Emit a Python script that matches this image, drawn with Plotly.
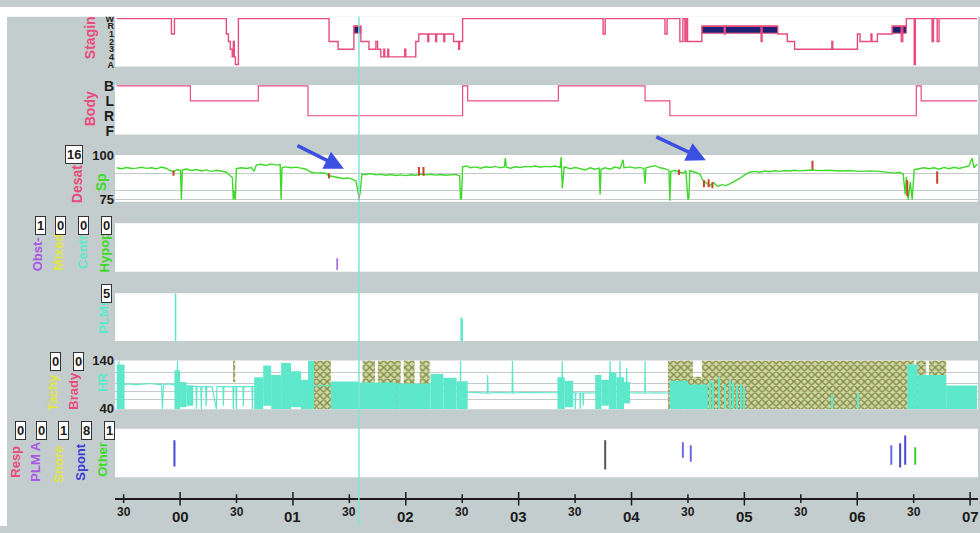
import plotly.graph_objects as go
from plotly.subplots import make_subplots

# ---------------- figure geometry ----------------
FIG_W, FIG_H = 980, 533
M_L, M_R = 115, 2
PLOT_W = FIG_W - M_L - M_R

# ---------------- data ----------------
# time in minutes after 23:00
X_RANGE = [25.4, 484.2]
TICK_MIN = [30, 60, 90, 120, 150, 180, 210, 240, 270, 300, 330, 360, 390, 420, 450, 480]
TICK_LBL = ["30", "00", "30", "01", "30", "02", "30", "03", "30", "04", "30", "05", "30", "06", "30", "07"]
CURSOR_MIN = 155.1

# sleep staging (0=A ... 6=W)
STAGE_NAMES = ["A", "4", "3", "2", "1", "R", "W"]
STAGE_T = [26.3, 55.4, 57.0, 84.6, 85.7, 86.7, 87.7, 88.3, 88.8, 89.4, 91.0, 139.2, 144.0, 152.4, 156.1,
           160.4, 164.1, 165.0, 166.7, 168.3, 168.8, 170.4, 170.9, 179.4, 180.0, 185.3, 186.9, 191.7, 192.2,
           195.9, 196.4, 200.2, 200.7, 205.4, 208.1, 208.6, 210.2, 284.9, 286.0, 317.8, 318.9, 325.7, 327.3,
           328.4, 329.0, 329.8, 337.4, 349.3, 349.8, 368.9, 369.4, 377.7, 382.8, 386.7, 406.5, 407.0, 420.1,
           421.5, 427.3, 427.8, 430.7, 438.6, 443.4, 444.2, 446.1, 450.3, 450.9, 459.8, 460.5, 462.5, 463.5, 483.7]
STAGE_V = [6, 4, 6, 4, 3, 2, 1, 3, 1, 0, 6, 3, 2, 5, 3,
           2, 3, 2, 1, 2, 1, 2, 1, 2, 1, 3, 4, 3, 4,
           3, 4, 3, 4, 3, 2, 3, 6, 4, 6, 4, 6, 3, 6,
           3, 6, 3, 5, 4, 5, 3, 5, 4, 3, 2, 3, 2, 4,
           3, 4, 3, 4, 5, 3, 5, 6, 0, 6, 3, 6, 3, 6, 6]
REM_T0 = [152.4, 337.4, 438.6]
REM_T1 = [156.1, 377.7, 446.1]

# body position (0=F, 1=R, 2=L, 3=B)
BODY_NAMES = ["F", "R", "L", "B"]
BODY_T = [26.3, 65.5, 101.6, 128.0, 210.2, 212.9, 261.1, 307.2, 320.4, 451.4, 454.0, 483.7]
BODY_V = [3, 2, 3, 1, 3, 2, 3, 2, 1, 3, 2, 2]

# SpO2 (%)
SPO2_T = [26.3, 28.9, 31.6, 34.2, 36.9, 39.5, 42.2, 44.8, 47.5, 50.1, 52.8, 54.4, 56.5, 58.6, 60.2, 60.7, 61.2,
          63.4, 66.0, 68.7, 71.3, 73.9, 76.6, 79.3, 81.9, 84.6, 86.2, 87.8, 88.3, 88.8, 89.4, 89.9, 92.5, 95.2,
          97.8, 99.4, 100.5, 103.1, 105.8, 108.4, 111.1, 113.2, 113.7, 114.2, 116.4, 119.0, 121.7, 124.3, 127.0,
          129.6, 132.3, 134.9, 137.6, 139.2, 141.3, 144.0, 146.6, 149.3, 151.9, 153.5, 154.5, 155.1, 155.6, 156.7,
          158.8, 161.4, 164.1, 166.7, 169.4, 172.0, 174.7, 177.3, 180.0, 182.6, 185.3, 187.9, 190.6, 193.2, 195.9,
          198.5, 201.2, 203.8, 206.5, 208.6, 209.1, 209.6, 210.2, 212.3, 214.4, 217.1, 219.7, 222.4, 225.0, 227.7,
          230.3, 232.4, 232.9, 233.5, 235.6, 238.3, 240.9, 243.6, 246.2, 248.9, 251.5, 254.2, 256.8, 259.4, 262.1,
          262.6, 263.2, 264.2, 267.4, 270.1, 272.7, 275.4, 278.0, 280.7, 282.8, 283.3, 283.8, 285.9, 288.6, 291.2,
          293.9, 295.5, 296.0, 299.2, 301.8, 304.5, 306.6, 307.2, 307.7, 309.8, 312.5, 315.1, 317.8, 319.9, 320.4,
          320.9, 323.1, 325.7, 327.8, 328.9, 330.0, 330.5, 331.0, 333.7, 336.3, 337.9, 339.5, 341.6, 343.8, 345.9,
          348.0, 350.1, 352.2, 354.9, 357.5, 360.2, 362.8, 365.4, 368.1, 370.8, 373.4, 376.1, 378.7, 381.4, 384.0,
          386.7, 389.3, 392.0, 395.7, 399.9, 405.2, 410.5, 415.8, 421.1, 426.4, 431.7, 437.0, 439.7, 442.3, 444.4,
          445.5, 446.1, 447.1, 448.2, 449.2, 450.3, 452.9, 455.6, 458.2, 460.9, 463.5, 466.2, 468.8, 471.5, 474.1,
          476.8, 479.4, 481.0, 482.1, 483.7]
SPO2_V = [93.0, 92.5, 93.2, 92.6, 92.8, 93.3, 92.7, 93.0, 92.4, 93.4, 92.6, 91.5, 90.8, 92.0, 91.5, 75.0, 91.8,
          92.3, 91.5, 92.0, 91.2, 91.8, 91.0, 91.6, 91.2, 90.5, 89.0, 87.5, 75.0, 80.0, 75.0, 92.5, 93.0, 92.6,
          93.2, 91.0, 94.5, 95.0, 94.3, 95.2, 94.5, 94.8, 75.0, 93.0, 93.5, 93.0, 93.4, 92.8, 92.2,
          90.5, 90.0, 90.3, 89.8, 88.5, 88.0, 87.5, 87.0, 87.3, 86.5, 85.5, 79.0, 76.5, 78.0, 89.5,
          89.2, 89.8, 89.0, 89.3, 88.8, 89.2, 88.7, 89.0, 88.6, 89.1, 88.8, 89.5, 89.0, 89.4, 88.9,
          89.2, 88.8, 89.0, 89.3, 88.5, 75.0, 76.0, 93.5, 94.0, 93.0, 93.5, 92.8, 93.6, 93.2, 93.8,
          93.0, 93.5, 98.5, 93.4, 92.8, 93.6, 93.2, 93.8, 93.5, 94.0, 93.3, 93.8, 93.5, 94.0, 93.2,
          99.0, 81.5, 93.5, 92.5, 93.2, 92.4, 91.8, 93.0, 92.2, 92.8, 78.0, 92.0, 93.0, 92.2, 93.4,
          92.6, 97.5, 93.0, 93.5, 92.8, 93.2, 92.5, 84.0, 93.0, 93.5, 94.2, 93.0, 92.5, 91.5, 74.5,
          91.0, 91.5, 90.5, 90.0, 91.5, 75.0, 76.0, 91.5, 90.5, 89.5, 86.0, 84.5, 83.0, 84.5, 82.5,
          83.5, 83.0, 84.0, 85.5, 87.0, 89.0, 90.5, 91.0, 90.5, 91.2, 90.8, 91.3, 91.0, 91.5, 91.2,
          91.6, 91.3, 91.5, 91.8, 91.4, 91.6, 91.2, 91.5, 91.0, 91.3, 91.0, 90.6, 90.0, 90.5, 89.5,
          78.0, 88.0, 75.0, 85.0, 75.0, 92.0, 92.5, 93.0, 92.5, 93.0, 92.2, 93.2, 92.5, 93.3, 92.6,
          93.5, 94.0, 98.5, 93.0, 95.0]

# desaturation marks
DESAT_T = [56.5, 139.2, 155.1, 187.0, 189.4, 325.2, 338.5, 341.0, 343.0, 396.2, 446.6, 462.5]
DESAT_LO = [88.5, 87.0, 75.0, 88.5, 88.5, 89.0, 82.0, 82.0, 81.5, 92.0, 77.0, 84.0]
DESAT_HI = [91.5, 90.0, 78.5, 93.5, 93.5, 92.0, 86.0, 86.5, 85.0, 97.0, 86.0, 91.0]

# respiratory events (obstructive apnea)
OBST_T = [143.5]
OBST_LO = [0.2]
OBST_HI = [1.4]

# PLMs
PLM_T = [57.6, 209.4, 210.0]
PLM_H = [5.0, 2.5, 2.3]

# heart rate trace (bpm)
HR_T = [26.3, 27.3, 27.5, 27.7, 30.5, 33.0, 36.0, 40.0, 44.0, 48.0, 50.1, 50.6, 51.2, 53.0, 56.0, 57.0, 58.4,
        58.6, 58.8, 67.0, 68.5, 68.7, 69.0, 71.0, 71.3, 71.6, 73.6, 73.9, 74.2, 77.0, 79.3, 79.6, 81.0, 82.8,
        83.0, 83.3, 86.0, 88.1, 88.3, 88.6, 89.7, 89.9, 90.2, 92.0, 93.4, 93.6, 93.9, 96.0, 98.2, 98.4, 98.7,
        99.4, 209.0, 209.1, 209.2, 212.9, 216.0, 220.0, 223.3, 223.5, 223.8, 228.0, 232.0, 236.5, 236.7, 237.0,
        242.0, 248.0, 254.0, 260.6, 263.0, 263.2, 263.4, 269.0, 270.0, 270.1, 270.4, 272.5, 272.7, 273.0,
        274.1, 274.3, 274.6, 277.0, 280.7, 288.4, 288.6, 288.8, 293.7, 293.9, 294.1, 297.2, 297.4, 297.6,
        299.2, 303.0, 307.0, 307.2, 307.4, 312.0, 316.0, 320.4]
HR_V = [100, 100, 140, 100, 90, 91, 89, 90, 92, 90, 90, 38, 89, 91, 90, 88, 88,
        140, 88, 86, 86, 38, 86, 85, 38, 85, 86, 44, 86, 85, 38, 86, 85, 85,
        45, 86, 85, 85, 38, 86, 85, 38, 86, 86, 85, 44, 86, 85, 86, 38, 86,
        86, 90, 140, 90, 74, 73, 72.5, 72, 110, 72, 73, 72.5, 72, 140, 72,
        73, 72.5, 72, 72.5, 80, 140, 80, 72, 72, 38, 72, 72, 38, 72,
        72, 45, 72, 72.5, 72, 90, 140, 90, 90, 140, 90, 85, 125, 85,
        72, 72.5, 72, 140, 72, 72.5, 72, 72]

# dense heart-rate activity (start, end, low, high)
HRD_T0 = [26.3, 57.0, 60.0, 63.4, 99.4, 104.2, 108.4, 113.7, 119.0, 124.3, 128.0, 140.2, 155.0, 175.0,
          193.2, 200.0, 207.0, 260.6, 264.5, 280.7, 284.0, 288.0, 292.0, 296.0, 320.4, 330.0, 341.3, 343.2,
          346.2, 349.2, 352.2, 353.8, 355.7, 357.7, 359.7, 406.2, 420.0, 446.6, 452.0, 467.3]
HRD_T1 = [30.5, 60.0, 63.4, 67.0, 104.2, 108.4, 113.7, 119.0, 124.3, 128.0, 131.2, 155.0, 175.0, 193.2,
          200.0, 207.0, 212.9, 264.5, 269.0, 284.0, 288.0, 292.0, 296.0, 299.2, 330.0, 340.5, 342.0, 343.8,
          346.9, 349.8, 352.9, 354.3, 356.3, 358.3, 360.3, 406.8, 420.6, 452.0, 467.3, 483.7]
HRD_LO = [38, 38, 42, 45, 38, 45, 38, 38, 42, 38, 38, 38, 38, 38,
          38, 38, 38, 38, 42, 38, 45, 38, 38, 50, 38, 38, 38, 38,
          38, 38, 38, 38, 38, 38, 38, 38, 38, 38, 38, 38]
HRD_HI = [132, 120, 95, 88, 105, 130, 110, 135, 118, 100, 140.5, 96, 94, 92,
          112, 104, 97, 105, 98, 110, 100, 115, 105, 95, 98, 90, 100, 95,
          105, 90, 100, 95, 88, 92, 85, 70, 72, 132, 110, 88]

# artefact (hatched) periods in HR channel
ART_T0 = [88.5, 131.2, 157.0, 165.2, 178.9, 187.4, 319.4, 332.6, 337.4, 446.6, 451.4, 458.2]
ART_T1 = [89.3, 140.2, 163.6, 177.3, 184.7, 192.7, 332.6, 337.4, 446.6, 450.3, 456.5, 467.3]
ART_LO = [95, 38, 38, 38, 38, 38, 38, 38, 38, 38, 38, 38]
ART_HI = [140.5, 140.5, 140.5, 140.5, 140.5, 140.5, 140.5, 106, 140.5, 140.5, 140.5, 140.5]

# arousals
AR_T = [57.0, 286.0, 327.3, 331.5, 438.1, 442.8, 445.5, 450.8]
AR_LO = [1.1, 0.8, 2.0, 1.6, 1.3, 1.0, 1.3, 1.3]
AR_HI = [3.8, 3.8, 3.6, 3.3, 3.3, 3.5, 4.3, 3.1]
AR_KIND = ["Spont", "Unk", "SpontL", "SpontL", "SpontL", "Spont", "Spont", "Other"]

# counters
COUNT_DESAT = "16"
COUNT_RESP_EV = ["1", "0", "0", "0"]
COUNT_PLM = "5"
COUNT_HR = ["0", "0"]
COUNT_AROUSAL = ["0", "0", "1", "8", "1"]

# ---------------- styles ----------------
PINK = "#e84c7d"
GREEN = "#3fd92b"
PURPLE = "#a957e6"
YELLOW = "#e2e544"
CYAN = "#5ee8cb"
BLUE = "#3d3dd6"
DESAT_RED = "#c9442c"
GRAY_BG = "#c4cdcd"
GRID = "#c3caca"
DARK = "#1c1c1c"
FONT = "Liberation Sans"
AR_COLORS = {"Spont": "#4646d8", "SpontL": "#6c6ce2", "Unk": "#555555", "Other": "#3fcf3f"}

PANELS = [(10, 61), (80, 131), (152, 200), (222, 272), (294, 343), (363, 413), (433, 483), (495, 515)]


def dom(top, bot):
    return [1 - bot / FIG_H, 1 - top / FIG_H]


def ppx(x):
    return (x - M_L) / PLOT_W


def ppy(y):
    return 1 - y / FIG_H


def segments(xs, lo, hi):
    X, Y = [], []
    for x, a, b in zip(xs, lo, hi):
        X += [x, x, None]
        Y += [a, b, None]
    return X, Y


def spans(t0, t1, lo, hi):
    return dict(x=[(a + b) / 2 for a, b in zip(t0, t1)],
                width=[b - a for a, b in zip(t0, t1)],
                base=list(lo),
                y=[h - l for l, h in zip(lo, hi)])


fig = make_subplots(rows=8, cols=1, shared_xaxes=True, vertical_spacing=0.0)

# row 1: staging
n_rem = len(REM_T0)
fig.add_trace(go.Bar(**spans(REM_T0, REM_T1, [4.1] * n_rem, [5.05] * n_rem),
                     marker=dict(color="#1d2277", line=dict(color=PINK, width=1))), row=1, col=1)
fig.add_trace(go.Scatter(x=STAGE_T, y=STAGE_V, mode="lines",
                         line=dict(color=PINK, width=1.4, shape="hv")), row=1, col=1)

# row 2: body position
fig.add_trace(go.Scatter(x=BODY_T, y=BODY_V, mode="lines",
                         line=dict(color=PINK, width=1.2, shape="hv")), row=2, col=1)

# row 3: SpO2
fig.add_trace(go.Scatter(x=SPO2_T, y=SPO2_V, mode="lines",
                         line=dict(color=GREEN, width=1.4)), row=3, col=1)
dx, dy = segments(DESAT_T, DESAT_LO, DESAT_HI)
fig.add_trace(go.Scatter(x=dx, y=dy, mode="lines", line=dict(color=DESAT_RED, width=2)), row=3, col=1)

# row 4: respiratory events
ox, oy = segments(OBST_T, OBST_LO, OBST_HI)
fig.add_trace(go.Scatter(x=ox, y=oy, mode="lines", line=dict(color=PURPLE, width=1.5)), row=4, col=1)

# row 5: PLMs
px_, py_ = segments(PLM_T, [0] * len(PLM_T), PLM_H)
fig.add_trace(go.Scatter(x=px_, y=py_, mode="lines", line=dict(color=CYAN, width=1.5)), row=5, col=1)

# row 6: heart rate
fig.add_trace(go.Bar(**spans(ART_T0, ART_T1, ART_LO, ART_HI),
                     marker=dict(color="#cbd9a1", line=dict(width=0),
                                 pattern=dict(shape="x", fgcolor="#878649", bgcolor="#cbd9a1",
                                              size=5, solidity=0.45, fillmode="replace"))),
              row=6, col=1)
fig.add_trace(go.Bar(**spans(HRD_T0, HRD_T1, HRD_LO, HRD_HI),
                     marker=dict(color=CYAN, line=dict(width=0))), row=6, col=1)
fig.add_trace(go.Scatter(x=HR_T, y=HR_V, mode="lines", line=dict(color=CYAN, width=1.2)), row=6, col=1)

# row 7: arousals
for kind, col in AR_COLORS.items():
    idx = [i for i, k in enumerate(AR_KIND) if k == kind]
    ax_, ay_ = segments([AR_T[i] for i in idx], [AR_LO[i] for i in idx], [AR_HI[i] for i in idx])
    fig.add_trace(go.Scatter(x=ax_, y=ay_, mode="lines", line=dict(color=col, width=2)), row=7, col=1)

# row 8: time axis ticks
tx, ty = [], []
for t, lbl in zip(TICK_MIN, TICK_LBL):
    h = 0.45 if lbl == "30" else 0.7
    tx += [t, t, None]
    ty += [-h, h, None]
fig.add_trace(go.Scatter(x=tx, y=ty, mode="lines", line=dict(color=DARK, width=1.5)), row=8, col=1)

# ---------------- axes ----------------
fig.update_xaxes(range=X_RANGE, showticklabels=False, ticks="", showgrid=False,
                 zeroline=False, showline=False)
for i, (t, b) in enumerate(PANELS):
    fig.update_yaxes(domain=dom(t, b), row=i + 1, col=1, showgrid=False, zeroline=False,
                     showline=False, ticks="", showticklabels=False)


def bold(lst):
    return ["<b>%s</b>" % s if s else "" for s in lst]


fig.update_yaxes(row=1, col=1, range=[-0.25, 6.25], tickvals=list(range(7)),
                 ticktext=bold(STAGE_NAMES), showticklabels=True,
                 tickfont=dict(size=9, color=DARK, family=FONT))
fig.update_yaxes(row=2, col=1, range=[-0.26, 3.07], tickvals=[0, 1, 2, 3],
                 ticktext=bold(BODY_NAMES), showticklabels=True,
                 tickfont=dict(size=14, color=DARK, family=FONT))
fig.update_yaxes(row=3, col=1, range=[73.9, 100.2], tickvals=[75, 80, 90, 100],
                 ticktext=bold(["75", "", "", "100"]), showticklabels=True, showgrid=True,
                 gridcolor=GRID, gridwidth=1, tickfont=dict(size=13, color=DARK, family=FONT))
for r in (4, 5, 7):
    fig.update_yaxes(row=r, col=1, range=[0, 5])
fig.update_yaxes(row=6, col=1, range=[38, 140.5], tickvals=[40, 58, 75, 93, 115, 140],
                 ticktext=bold(["40", "", "", "", "", "140"]), showticklabels=True, showgrid=True,
                 gridcolor=GRID, gridwidth=1, tickfont=dict(size=13, color=DARK, family=FONT))
fig.update_yaxes(row=8, col=1, range=[-1, 1], zeroline=True, zerolinecolor=DARK, zerolinewidth=1.5)

# ---------------- shapes ----------------
shapes = []
for (t, b) in PANELS[:7]:
    shapes.append(dict(type="rect", xref="paper", yref="paper", x0=0, x1=1, y0=ppy(b), y1=ppy(t),
                       fillcolor="white", line=dict(width=0), layer="below"))
# outer white border of the screenshot
shapes.append(dict(type="rect", xref="paper", yref="paper", x0=ppx(0), x1=ppx(FIG_W), y0=ppy(10), y1=1,
                   fillcolor="white", line=dict(width=0), layer="above"))
shapes.append(dict(type="rect", xref="paper", yref="paper", x0=ppx(0), x1=ppx(7), y0=0, y1=1,
                   fillcolor="white", line=dict(width=0), layer="above"))
# cursor line
shapes.append(dict(type="line", xref="x", yref="paper", x0=CURSOR_MIN, x1=CURSOR_MIN, y0=0, y1=ppy(10),
                   line=dict(color="#7fe6d6", width=1.5), layer="above"))

# ---------------- annotations ----------------
ann = []
# time labels
for t, lbl in zip(TICK_MIN, TICK_LBL):
    minor = lbl == "30"
    ann.append(dict(text="<b>%s</b>" % lbl, x=t, xref="x8", y=ppy(519 if minor else 523), yref="paper",
                    showarrow=False, xanchor="center", yanchor="middle",
                    font=dict(size=12 if minor else 15, color=DARK, family=FONT)))

# rotated channel labels
LABELS = [
    ("Stagin", 90, 32, PINK, 14), ("Body", 90, 105, PINK, 14),
    ("Desat", 77, 182, PINK, 14), ("Sp", 101, 180, GREEN, 14),
    ("Obst-", 37, 254, PURPLE, 13), ("Mixed", 58, 252, YELLOW, 13),
    ("Centr", 82.5, 252, CYAN, 13), ("Hypop", 104, 252, GREEN, 13),
    ("PLMs", 104, 318, CYAN, 13),
    ("Tachy", 52.5, 396, YELLOW, 13), ("Brady", 74, 394, PINK, 13), ("HR", 103, 386, CYAN, 13),
    ("Resp", 16, 467, PINK, 13), ("PLM A", 36, 467, PURPLE, 13), ("Snore", 59, 470, YELLOW, 13),
    ("Spont", 81, 468, BLUE, 13), ("Other", 103, 465, GREEN, 13),
]
for txt, x, y, c, s in LABELS:
    ann.append(dict(text="<b>%s</b>" % txt, x=ppx(x), y=ppy(y), xref="paper", yref="paper",
                    showarrow=False, textangle=-90, xanchor="center", yanchor="middle",
                    font=dict(size=s, color=c, family=FONT)))

# counter boxes
BOXES = [(COUNT_DESAT, 74, 151)]
BOXES += list(zip(COUNT_RESP_EV, [40, 60, 83.5, 106.5], [224] * 4))
BOXES += [(COUNT_PLM, 106.5, 294)]
BOXES += list(zip(COUNT_HR, [56, 78.5], [364] * 2))
BOXES += list(zip(COUNT_AROUSAL, [20, 41.5, 63.5, 86.5, 109], [434.5] * 5))
for txt, x, y in BOXES:
    ann.append(dict(text="<b>%s</b>" % txt, x=ppx(x), y=ppy(y), xref="paper", yref="paper",
                    showarrow=False, xanchor="center", yanchor="middle", bgcolor="white",
                    bordercolor="#333333", borderwidth=1, borderpad=1,
                    font=dict(size=13, color=DARK, family=FONT)))

# arrows in SpO2 panel
for hx, hy, axo, ayo in [(147.1, 92.4, -48, -24), (339.5, 97.3, -51, -24)]:
    ann.append(dict(text="", x=hx, y=hy, xref="x3", yref="y3", ax=axo, ay=ayo, showarrow=True,
                    arrowhead=2, arrowsize=1.1, arrowwidth=3.5, arrowcolor="#3b4fe0"))

fig.update_layout(
    width=FIG_W, height=FIG_H,
    margin=dict(l=M_L, r=M_R, t=0, b=0),
    paper_bgcolor=GRAY_BG, plot_bgcolor=GRAY_BG,
    showlegend=False, barmode="overlay",
    shapes=shapes, annotations=ann,
    font=dict(family=FONT, color=DARK),
)

fig.write_html("out.html", config={"displayModeBar": False},
               post_script="document.body.style.margin='0px';document.body.style.overflow='hidden';")
